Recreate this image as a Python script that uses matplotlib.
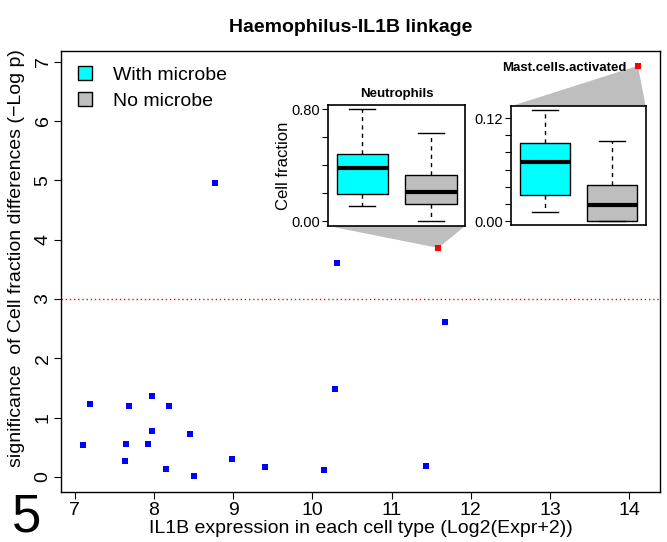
import numpy as np
import matplotlib
matplotlib.use('Agg')
import matplotlib.pyplot as plt
from matplotlib.lines import Line2D
from matplotlib.patches import Polygon

plt.rcParams['font.family'] = ['Liberation Sans', 'DejaVu Sans']

# main scatter: IL1B expression vs significance (-log p)
expr_x = [7.19, 7.68, 7.97, 8.19, 10.29, 7.98, 8.46, 7.11, 7.65, 7.92,
          7.64, 8.15, 8.51, 8.98, 9.40, 10.15, 11.44, 8.77, 10.31, 11.68]
signif_y = [1.23, 1.20, 1.37, 1.19, 1.48, 0.78, 0.73, 0.53, 0.56, 0.56,
            0.27, 0.14, 0.01, 0.30, 0.16, 0.12, 0.18, 4.96, 3.61, 2.61]

# highlighted cell types
hl_names = ['Neutrophils', 'Mast.cells.activated']
hl_x = [11.59, 14.11]
hl_y = [3.86, 6.93]

threshold = 3

groups = ['With microbe', 'No microbe']
group_colors = ['cyan', '#BEBEBE']

# boxplot stats: whislo, q1, med, q3, whishi
neutro_with = [0.110, 0.196, 0.381, 0.484, 0.800]
neutro_no = [0.000, 0.127, 0.213, 0.335, 0.632]
mast_with = [0.0106, 0.031, 0.069, 0.0906, 0.129]
mast_no = [0.000, 0.000, 0.0188, 0.0416, 0.093]

fig = plt.figure(figsize=(6.67, 5.42), dpi=100)
ax = fig.add_axes([61.3 / 667, 1 - 492.3 / 542, (660 - 61.3) / 667, (492.3 - 51) / 542])

ax.scatter(expr_x, signif_y, marker='s', s=13, color='blue', linewidths=0, zorder=3)
ax.scatter(hl_x, hl_y, marker='s', s=13, color='red', linewidths=0, zorder=3)
ax.axhline(threshold, color='red', linestyle=(0, (1, 2)), lw=1)

ax.set_xlim(6.83, 14.39)
ax.set_ylim(-0.26, 7.18)
ax.set_xticks(range(7, 15))
ax.set_yticks(range(0, 8))
ax.tick_params(direction='out', length=5, labelsize=14, width=0.8, pad=2)
for lab in ax.get_yticklabels():
    lab.set_rotation(90)
    lab.set_va('center')
for s in ax.spines.values():
    s.set_linewidth(1)
ax.set_xlabel('IL1B expression in each cell type (Log2(Expr+2))', fontsize=14, labelpad=1)
ax.set_ylabel('significance  of Cell fraction differences (\u2212Log p)', fontsize=14)
ax.yaxis.set_label_coords(-0.06, 0.53)
ax.set_title('Haemophilus-IL1B linkage', fontsize=14, fontweight='bold', pad=14, x=0.483)

handles = [Line2D([], [], marker='s', linestyle='none', markersize=10,
                  markerfacecolor=c, markeredgecolor='black', markeredgewidth=1)
           for c in group_colors]
ax.legend(handles, groups, loc='upper left', frameon=False, fontsize=14,
          handletextpad=1.05, borderaxespad=0.4, labelspacing=0.4, handlelength=0.8)


def inset_box(x0, x1, y0, y1, stats, ylim, ticks, ticklabels, px, py, below, ylabel=None):
    ins = ax.inset_axes([x0, y0, x1 - x0, y1 - y0], transform=ax.transData)
    bstats = []
    for st, lab in zip(stats, groups):
        bstats.append(dict(whislo=st[0], q1=st[1], med=st[2], q3=st[3], whishi=st[4], label=lab, fliers=[]))
    bp = ins.bxp(bstats, positions=[1, 2], widths=0.75, patch_artist=True, showfliers=False,
                 medianprops=dict(color='black', lw=3, solid_capstyle='butt'),
                 whiskerprops=dict(color='black', lw=1, linestyle=(0, (3, 3))),
                 capprops=dict(color='black', lw=1), capwidths=0.38,
                 boxprops=dict(edgecolor='black', lw=1))
    for patch, c in zip(bp['boxes'], group_colors):
        patch.set_facecolor(c)
    ins.set_xlim(0.5, 2.5)
    ins.set_ylim(*ylim)
    ins.set_xticks([])
    ins.set_yticks(ticks)
    ins.set_yticklabels(ticklabels)
    ins.tick_params(axis='y', direction='out', length=4, labelsize=10.5, pad=2)
    for s in ins.spines.values():
        s.set_linewidth(1.2)
    if ylabel:
        ins.set_ylabel(ylabel, fontsize=12, labelpad=0)
    # gray connector to the point
    yb = y0 if below else y1
    ax.add_patch(Polygon([(x0, yb), (x1, yb), (px, py)], closed=True,
                         facecolor='#BEBEBE', edgecolor='none', zorder=1))
    return ins


n_ticks = [0, 0.2, 0.4, 0.6, 0.8]
n_labels = ['0.00', '', '', '', '0.80']
nin = inset_box(10.20, 11.93, 4.23, 6.27, [neutro_with, neutro_no], (-0.032, 0.832),
                n_ticks, n_labels, hl_x[0], hl_y[0], True, ylabel='Cell fraction')
nin.set_title(hl_names[0], fontsize=9.5, fontweight='bold', pad=6)

m_ticks = [0, 0.02, 0.04, 0.06, 0.08, 0.10, 0.12]
m_labels = ['0.00', '', '', '', '', '', '0.12']
inset_box(12.51, 14.21, 4.24, 6.25, [mast_with, mast_no], (-0.005, 0.134),
          m_ticks, m_labels, hl_x[1], hl_y[1], False)
ax.text(hl_x[1] - 0.14, hl_y[1] - 0.04, hl_names[1], fontsize=9.5, fontweight='bold',
        ha='right', va='center')

fig.text(27 / 667, 1 - 517 / 542, '5', fontsize=38, ha='center', va='center')

plt.savefig('out.png', dpi=100)
